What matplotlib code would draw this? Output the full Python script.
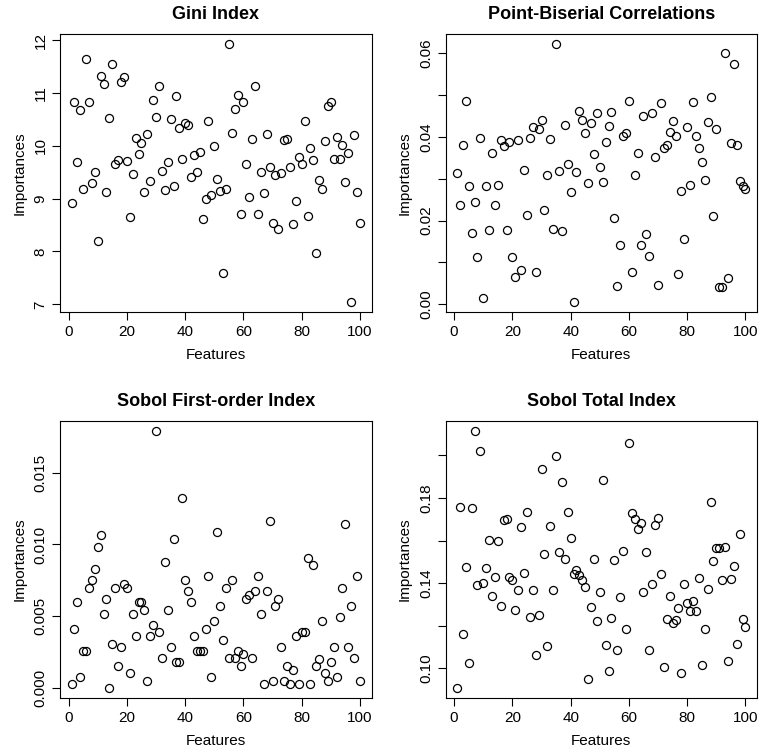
import numpy as np
import matplotlib
matplotlib.use("Agg")
import matplotlib.pyplot as plt
from matplotlib.ticker import FixedLocator, FixedFormatter

plt.rcParams['font.family'] = ['Liberation Sans', 'DejaVu Sans']

features = np.arange(1, 101)

gini = [8.92, 10.83, 9.70, 10.68, 9.18, 11.65, 10.82, 9.29, 9.51, 8.20,
        11.32, 11.17, 9.12, 10.53, 11.55, 9.65, 9.73, 11.21, 11.30, 9.71,
        8.66, 9.46, 10.15, 9.84, 10.06, 9.13, 10.23, 9.34, 10.87, 10.55,
        11.13, 9.53, 9.16, 9.70, 10.51, 9.23, 10.94, 10.34, 9.75, 10.44,
        10.39, 9.40, 9.83, 9.51, 9.89, 8.61, 8.99, 10.46, 9.07, 9.99,
        9.38, 9.15, 7.59, 9.18, 11.92, 10.25, 10.70, 10.96, 8.71, 10.82,
        9.65, 9.03, 10.12, 11.14, 8.71, 9.50, 9.11, 10.23, 9.60, 8.53,
        9.44, 8.43, 9.48, 10.11, 10.13, 9.59, 8.52, 8.96, 9.78, 9.65,
        10.46, 8.68, 9.95, 9.74, 7.97, 9.36, 9.19, 10.09, 10.76, 10.82,
        9.75, 10.17, 9.75, 10.02, 9.31, 9.87, 7.05, 10.20, 9.12, 8.53]

pbc = [0.0314, 0.0238, 0.0382, 0.0486, 0.0284, 0.0170, 0.0245, 0.0114, 0.0397, 0.0014,
       0.0284, 0.0177, 0.0362, 0.0237, 0.0286, 0.0394, 0.0378, 0.0177, 0.0388, 0.0112,
       0.0064, 0.0394, 0.0082, 0.0321, 0.0214, 0.0398, 0.0424, 0.0078, 0.0420, 0.0440,
       0.0226, 0.0310, 0.0395, 0.0179, 0.0622, 0.0318, 0.0176, 0.0429, 0.0335, 0.0269,
       0.0006, 0.0317, 0.0463, 0.0440, 0.0410, 0.0289, 0.0434, 0.0360, 0.0458, 0.0328,
       0.0293, 0.0387, 0.0427, 0.0460, 0.0206, 0.0043, 0.0142, 0.0403, 0.0410, 0.0487,
       0.0078, 0.0310, 0.0362, 0.0141, 0.0450, 0.0169, 0.0116, 0.0458, 0.0352, 0.0046,
       0.0482, 0.0374, 0.0381, 0.0413, 0.0439, 0.0403, 0.0072, 0.0270, 0.0157, 0.0423,
       0.0286, 0.0483, 0.0402, 0.0375, 0.0341, 0.0297, 0.0437, 0.0497, 0.0212, 0.0419,
       0.0042, 0.0042, 0.0602, 0.0062, 0.0386, 0.0575, 0.0382, 0.0296, 0.0282, 0.0276]

sobol_first = [0.00023, 0.00412, 0.00596, 0.00074, 0.00258, 0.00258, 0.00698, 0.00750, 0.00829, 0.00985,
               0.01064, 0.00517, 0.00622, 0.00000, 0.00307, 0.00698, 0.00151, 0.00284, 0.00726, 0.00698,
               0.00100, 0.00517, 0.00361, 0.00596, 0.00596, 0.00542, 0.00049, 0.00361, 0.00438, 0.01790,
               0.00386, 0.00205, 0.00880, 0.00542, 0.00284, 0.01036, 0.00179, 0.00179, 0.01322, 0.00750,
               0.00673, 0.00596, 0.00361, 0.00258, 0.00258, 0.00258, 0.00412, 0.00777, 0.00074, 0.00466,
               0.01089, 0.00568, 0.00335, 0.00698, 0.00207, 0.00750, 0.00207, 0.00258, 0.00154, 0.00233,
               0.00622, 0.00647, 0.00205, 0.00673, 0.00777, 0.00517, 0.00023, 0.00673, 0.01166, 0.00049,
               0.00568, 0.00622, 0.00282, 0.00049, 0.00151, 0.00023, 0.00126, 0.00361, 0.00023, 0.00386,
               0.00386, 0.00908, 0.00023, 0.00854, 0.00151, 0.00203, 0.00466, 0.00100, 0.00049, 0.00177,
               0.00282, 0.00074, 0.00491, 0.00698, 0.01141, 0.00282, 0.00568, 0.00205, 0.00777, 0.00049]

sobol_total = [0.0909, 0.1758, 0.1163, 0.1475, 0.1025, 0.1753, 0.2113, 0.1391, 0.2022, 0.1400,
               0.1469, 0.1602, 0.1342, 0.1431, 0.1597, 0.1294, 0.1695, 0.1703, 0.1431, 0.1417,
               0.1275, 0.1367, 0.1664, 0.1448, 0.1734, 0.1241, 0.1367, 0.1061, 0.1250, 0.1936,
               0.1536, 0.1103, 0.1669, 0.1370, 0.1998, 0.1544, 0.1873, 0.1511, 0.1734, 0.1614,
               0.1445, 0.1464, 0.1439, 0.1413, 0.1383, 0.0948, 0.1286, 0.1513, 0.1220, 0.1358,
               0.1883, 0.1108, 0.0986, 0.1236, 0.1508, 0.1086, 0.1336, 0.1550, 0.1186, 0.2056,
               0.1727, 0.1702, 0.1653, 0.1684, 0.1358, 0.1544, 0.1086, 0.1398, 0.1672, 0.1706,
               0.1441, 0.1005, 0.1234, 0.1342, 0.1214, 0.1225, 0.1281, 0.0978, 0.1397, 0.1309,
               0.1267, 0.1314, 0.1267, 0.1422, 0.1016, 0.1183, 0.1373, 0.1783, 0.1503, 0.1564,
               0.1564, 0.1413, 0.1569, 0.1034, 0.1419, 0.1481, 0.1116, 0.1633, 0.1234, 0.1192]

titles = ["Gini Index", "Point-Biserial Correlations",
          "Sobol First-order Index", "Sobol Total Index"]
series = [gini, pbc, sobol_first, sobol_total]

# y ticks per panel (all tick marks, and their labels; R drops crowded ones)
yticks = [[7, 8, 9, 10, 11, 12],
          [0.00, 0.01, 0.02, 0.03, 0.04, 0.05, 0.06],
          [0.000, 0.005, 0.010, 0.015],
          [0.10, 0.12, 0.14, 0.16, 0.18, 0.20]]
ylabels = [["7", "8", "9", "10", "11", "12"],
           ["0.00", "", "0.02", "", "0.04", "", "0.06"],
           ["0.000", "0.005", "0.010", "0.015"],
           ["0.10", "", "0.14", "", "0.18", ""]]

W, H = 760, 752
fig = plt.figure(figsize=(W / 100, H / 100), dpi=100)

# plot boxes in pixels: left, top, right, bottom
boxes = [(60, 34, 371.5, 312), (445.5, 34, 757, 312),
         (60, 421, 371.5, 698), (445.5, 421, 757, 698)]

for k in range(4):
    l, t, r, b = boxes[k]
    ax = fig.add_axes([l / W, 1 - b / H, (r - l) / W, (b - t) / H])
    ax.plot(features, series[k], linestyle="none", marker="o", markersize=5.8,
            markerfacecolor="none", markeredgecolor="black", markeredgewidth=0.9)
    ax.margins(x=0.04, y=0.04)
    ax.set_xticks([0, 20, 40, 60, 80, 100])
    ax.yaxis.set_major_locator(FixedLocator(yticks[k]))
    ax.yaxis.set_major_formatter(FixedFormatter(ylabels[k]))
    ax.tick_params(direction="out", length=6, width=0.8, labelsize=11, pad=3)
    ax.tick_params(axis="y", labelrotation=90)
    for lab in ax.get_yticklabels():
        lab.set_va("center")
    for sp in ax.spines.values():
        sp.set_linewidth(0.8)
    ax.set_title(titles[k], fontsize=13, fontweight="bold", pad=11)
    ax.set_xlabel("Features", fontsize=11, labelpad=7)
    ax.set_ylabel("Importances", fontsize=11, labelpad=5)

fig.savefig("out.png", dpi=100)
